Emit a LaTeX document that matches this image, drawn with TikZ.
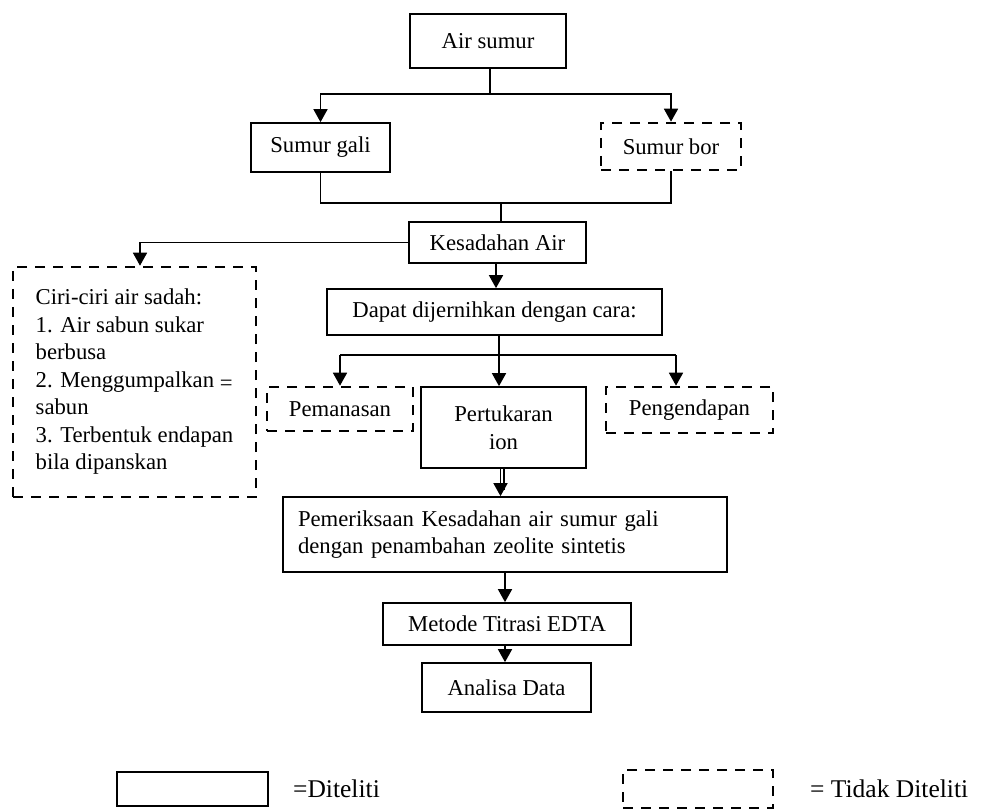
\documentclass[tikz,border=0pt]{standalone}
\usepackage{fontspec}
\setmainfont{Liberation Serif}
\usetikzlibrary{arrows.meta,calc}
\begin{document}
\begin{tikzpicture}[x=1pt,y=-1pt,
  every node/.style={font=\fontsize{22.7}{27.5}\selectfont, inner sep=0pt},
  sbox/.style={draw, line width=1.7pt},
  dbox/.style={draw, line width=2.6pt, dash pattern=on 10pt off 8pt},
  ln/.style={line width=1.7pt},
  arr/.style={line width=1.7pt, -{Triangle[length=13pt,width=14pt]}},
  legtext/.style={font=\fontsize{25.5}{30}\selectfont, anchor=west}]
\useasboundingbox (0,0) rectangle (993,810);

% boxes
\node[sbox, minimum width=156, minimum height=54] (air) at (488,41) {Air sumur};
\node[sbox, minimum width=139, minimum height=49] (gali) at (320.5,147.5) {Sumur gali};
\node[dbox, minimum width=140, minimum height=47] (bor) at (671,146.5) {Sumur bor};
\node[sbox, minimum width=177, minimum height=41] (kes) at (497.5,242.5) {Kesadahan Air};
\node[dbox, minimum width=243, minimum height=230, align=left] (ciri) at (134.5,382)
  {Ciri-ciri air sadah:\\1. Air sabun sukar\\berbusa\\2. Menggumpalkan \raisebox{-3pt}{=}\\sabun\\3. Terbentuk endapan\\bila dipanskan};
\node[sbox, minimum width=335, minimum height=46] (dapat) at (494.5,312) {Dapat dijernihkan dengan cara:};
\node[dbox, minimum width=146, minimum height=44] (pem) at (340,409) {Pemanasan};
\node[sbox, minimum width=165, minimum height=81, align=center] (pert) at (503.5,427.5) {Pertukaran\\ion};
\node[dbox, minimum width=167, minimum height=46] (peng) at (689.5,410) {\raisebox{-3pt}{Pengendapan}};
\node[sbox, minimum width=444, minimum height=75, text width=414, align=left] (periksa) at (505,534.5)
  {Pemeriksaan Kesadahan air sumur gali\\dengan penambahan zeolite sintetis};
\node[sbox, minimum width=248, minimum height=42] (metode) at (507,624) {Metode Titrasi EDTA};
\node[sbox, minimum width=169, minimum height=49] (analisa) at (506.5,687.5) {Analisa Data};

% legend
\node[sbox, minimum width=151, minimum height=34] (leg1) at (192.5,789) {};
\node[legtext] (leg1t) at (293,789) {=Diteliti};
\node[dbox, minimum width=150, minimum height=38] (leg2) at (698,789) {};
\node[legtext] (leg2t) at (810,789) {= Tidak Diteliti};

% connectors
\coordinate (j1) at (490,94);
\draw[ln] (j1 |- air.south) -- (j1);
\draw[arr] (j1) -| (gali.north);
\draw[arr] (j1) -| (bor.north);

\coordinate (j2) at (501,203);
\draw[ln] (gali.south) |- (j2);
\draw[ln] (bor.south) |- (j2);
\draw[ln] (j2) -- (j2 |- kes.north);

\draw[arr] (kes.west) -| ([xshift=5.5pt]ciri.north);
\draw[arr] ([xshift=-1.5pt]kes.south) -- ([xshift=-1.5pt]kes.south |- dapat.north);

\coordinate (j3) at (499,355);
\coordinate (j4) at (340,355);
\coordinate (j5) at (676,355);
\draw[arr] (j3 |- dapat.south) -- (j3 |- pert.north);
\draw[ln] (j4) -- (j5);
\draw[arr] (j4) -- (j4 |- pem.north);
\draw[arr] (j5) -- (j5 |- peng.north);

\coordinate (d1) at (500.5,0);
\coordinate (d2) at (504,0);
\draw[arr] (d1 |- pert.south) -- (d1 |- periksa.north);
\draw[ln] (d2 |- pert.south) -- ($(d2 |- periksa.north)+(0,-6)$);

\coordinate (d3) at (505,0);
\draw[arr] (d3 |- periksa.south) -- (d3 |- metode.north);
\draw[arr] (d3 |- metode.south) -- (d3 |- analisa.north);
\end{tikzpicture}
\end{document}
